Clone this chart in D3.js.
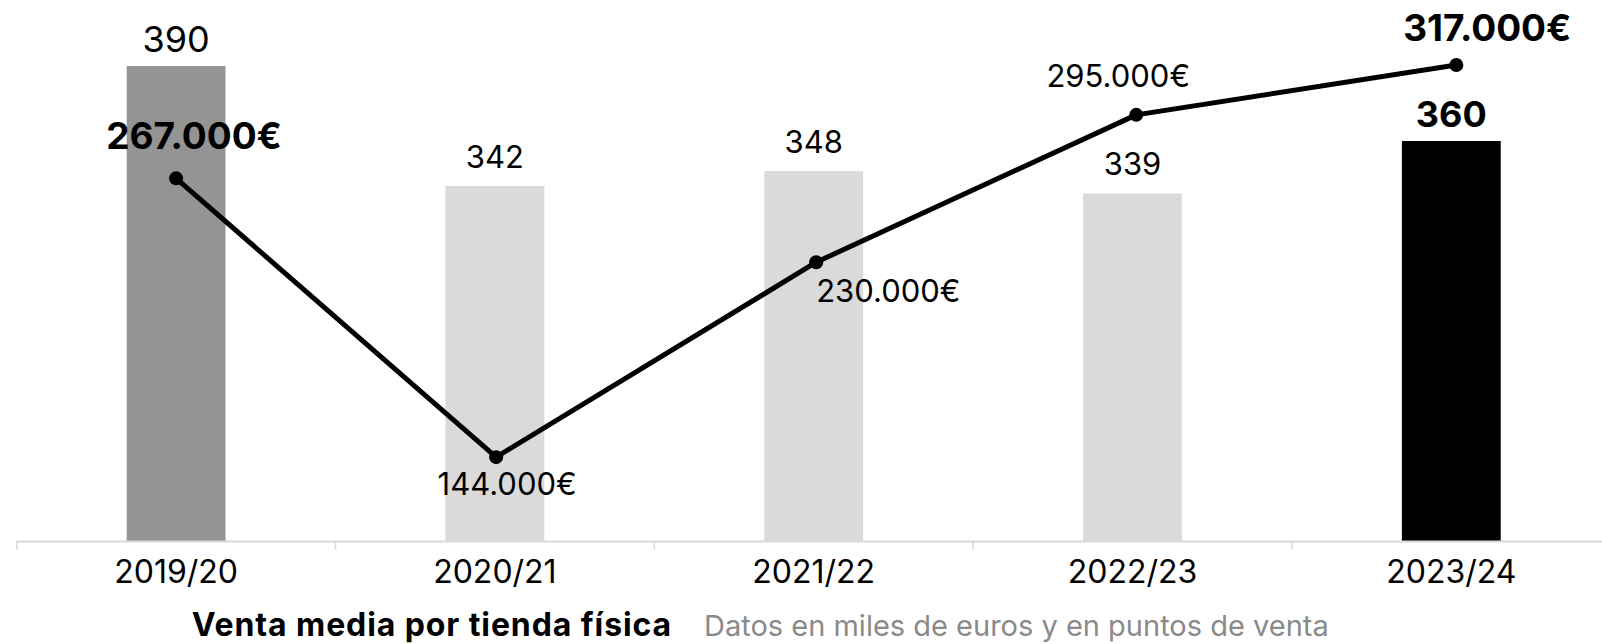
<!DOCTYPE html>
<html>
<head>
<meta charset="utf-8">
<script src="https://cdn.jsdelivr.net/npm/d3@7"></script>
<style>
  html, body { margin: 0; padding: 0; background: #fff; }
  svg { display: block; font-family: Inter, "Noto Sans", sans-serif; }
</style>
</head>
<body>
<div id="chart"></div>
<script>
// data
const categories = ['2019/20', '2020/21', '2021/22', '2022/23', '2023/24'];
const stores = [390, 342, 348, 339, 360];          // puntos de venta
const salesK = [267, 144, 230, 295, 317];          // venta media, miles de euros
const barColors = ['#949494', '#dadada', '#dadada', '#dadada', '#000000'];
const title = 'Venta media por tienda física';
const subtitle = 'Datos en miles de euros y en puntos de venta';

const width = 1602, height = 644;
const baseY = 541;

// label placement for the line values (relative to each marker)
const lineLabelLayout = [
  { dx: 18, dy: -29, anchor: 'middle' },
  { dx: 11, dy: 38, anchor: 'middle' },
  { dx: 0, dy: 40, anchor: 'start' },
  { dx: -18, dy: -28, anchor: 'middle' },
  { dx: 31, dy: -24, anchor: 'middle' }
];

const es = d3.formatLocale({ decimal: ',', thousands: '.', grouping: [3], currency: ['', '€'] });
const euro = es.format('$,');

let svg = d3.select('#chart').append('svg')
  .attr('width', width)
  .attr('height', height);

let x = d3.scaleBand()
  .domain(categories)
  .range([16.7, 16.7 + 5 * 318.8])
  .padding(0);
let barW = x.bandwidth() * 0.31;

let yBar = d3.scaleLinear().domain([200, 390]).range([baseY, 66]);
let yLine = d3.scaleLinear().domain([107, 317]).range([baseY, 65]);

let xLine = d3.scalePoint()
  .domain(categories)
  .range([x(categories[0]) + x.step() / 2, x(categories[4]) + x.step() / 2 + 5]);

let isEmph = i => i === 0 || i === categories.length - 1;

// bars
svg.selectAll('.bar')
  .data(stores)
  .enter().append('rect')
  .attr('class', 'bar')
  .attr('x', (d, i) => x(categories[i]) + (x.bandwidth() - barW) / 2)
  .attr('y', d => yBar(d))
  .attr('width', barW)
  .attr('height', d => baseY - yBar(d))
  .attr('fill', (d, i) => barColors[i]);

// axis line + ticks at band edges
svg.append('line')
  .attr('x1', x.range()[0]).attr('x2', width)
  .attr('y1', baseY + 0.5).attr('y2', baseY + 0.5)
  .attr('stroke', '#d9d9d9').attr('stroke-width', 2);

svg.selectAll('.tick')
  .data(categories)
  .enter().append('line')
  .attr('class', 'tick')
  .attr('x1', d => x(d)).attr('x2', d => x(d))
  .attr('y1', baseY).attr('y2', baseY + 8.5)
  .attr('stroke', '#d9d9d9').attr('stroke-width', 1.5);

svg.selectAll('.catLabel')
  .data(categories)
  .enter().append('text')
  .attr('class', 'catLabel')
  .attr('x', d => x(d) + x.bandwidth() / 2)
  .attr('y', 583.3)
  .attr('text-anchor', 'middle')
  .style('font-size', '32px')
  .style('fill', '#000')
  .text(d => d);

// bar value labels
svg.selectAll('.barLabel')
  .data(stores)
  .enter().append('text')
  .attr('class', 'barLabel')
  .attr('x', (d, i) => x(categories[i]) + x.bandwidth() / 2)
  .attr('y', (d, i) => yBar(d) - (isEmph(i) ? 14 : 18.3))
  .attr('text-anchor', 'middle')
  .style('font-size', (d, i) => isEmph(i) ? '36px' : '31px')
  .style('font-weight', (d, i) => i === categories.length - 1 ? 700 : 400)
  .text(d => d);

// line
let line = d3.line()
  .x((d, i) => xLine(categories[i]))
  .y(d => yLine(d));

svg.append('path')
  .datum(salesK)
  .attr('d', line)
  .attr('fill', 'none')
  .attr('stroke', '#000')
  .attr('stroke-width', 5)
  .attr('stroke-linejoin', 'round');

svg.selectAll('.dot')
  .data(salesK)
  .enter().append('circle')
  .attr('class', 'dot')
  .attr('cx', (d, i) => xLine(categories[i]))
  .attr('cy', d => yLine(d))
  .attr('r', 7)
  .attr('fill', '#000');

svg.selectAll('.lineLabel')
  .data(salesK)
  .enter().append('text')
  .attr('class', 'lineLabel')
  .attr('x', (d, i) => xLine(categories[i]) + lineLabelLayout[i].dx)
  .attr('y', (d, i) => yLine(d) + lineLabelLayout[i].dy)
  .attr('text-anchor', (d, i) => lineLabelLayout[i].anchor)
  .style('font-size', (d, i) => isEmph(i) ? '37px' : '31px')
  .style('font-weight', (d, i) => isEmph(i) ? 700 : 400)
  .text(d => euro(d * 1000));

// title
svg.append('text')
  .attr('x', 191.7).attr('y', 636)
  .style('font-size', '32px')
  .style('font-weight', 700)
  .style('letter-spacing', '0.9px')
  .text(title);

svg.append('text')
  .attr('x', 704).attr('y', 636)
  .style('font-size', '29px')
  .style('fill', '#8a8a8a')
  .text(subtitle);
</script>
</body>
</html>
